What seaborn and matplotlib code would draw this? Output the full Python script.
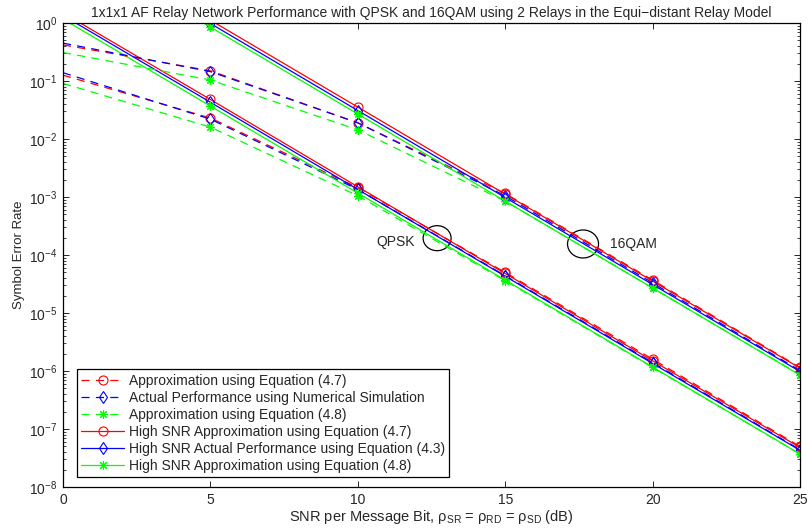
import matplotlib
matplotlib.use("Agg")
import matplotlib.pyplot as plt
from matplotlib.patches import Ellipse
from matplotlib.ticker import LogLocator, NullFormatter, MultipleLocator
import numpy as np
import seaborn as sns

# SNR grid (dB)
snr_db = [0, 5, 10, 15, 20, 25]

# QPSK symbol error rates
qpsk_eq47 = [0.126, 0.023, 1.45e-3, 5.0e-5, 1.6e-6, 5.0e-8]
qpsk_sim = [0.139, 0.022, 1.35e-3, 4.4e-5, 1.4e-6, 4.4e-8]
qpsk_eq48 = [0.091, 0.016, 1.05e-3, 3.6e-5, 1.15e-6, 3.7e-8]
qpsk_hi_eq47 = [1.5, 4.8e-2, 1.5e-3, 4.8e-5, 1.5e-6, 4.8e-8]
qpsk_hi_eq43 = [1.35, 4.3e-2, 1.35e-3, 4.3e-5, 1.35e-6, 4.3e-8]
qpsk_hi_eq48 = [1.17, 3.7e-2, 1.17e-3, 3.7e-5, 1.17e-6, 3.7e-8]

# 16QAM symbol error rates
qam_eq47 = [0.42, 0.15, 0.019, 1.15e-3, 3.7e-5, 1.15e-6]
qam_sim = [0.45, 0.145, 0.019, 1.05e-3, 3.3e-5, 1.02e-6]
qam_eq48 = [0.31, 0.104, 0.0144, 8.5e-4, 2.7e-5, 8.6e-7]
qam_hi_eq47 = [35.5, 1.12, 3.55e-2, 1.12e-3, 3.55e-5, 1.12e-6]
qam_hi_eq43 = [30.9, 0.98, 3.1e-2, 9.8e-4, 3.1e-5, 9.8e-7]
qam_hi_eq48 = [26.9, 0.85, 2.7e-2, 8.5e-4, 2.7e-5, 8.5e-7]

legend_labels = [
    "Approximation using Equation (4.7)",
    "Actual Performance using Numerical Simulation",
    "Approximation using Equation (4.8)",
    "High SNR Approximation using Equation (4.7)",
    "High SNR Actual Performance using Equation (4.3)",
    "High SNR Approximation using Equation (4.8)",
]

sns.set_style("ticks")
plt.rcParams["font.family"] = ["Liberation Sans", "DejaVu Sans"]
plt.rcParams["mathtext.default"] = "regular"
plt.rcParams["xtick.direction"] = "in"
plt.rcParams["ytick.direction"] = "in"

fig = plt.figure(figsize=(8.09, 5.29), dpi=100)
ax = fig.add_axes([63 / 809, 1 - 487 / 529, 737 / 809, 464 / 529])
ax.set_yscale("log")

RED, BLUE, GREEN = "#ff0000", "#0000ff", "#00ff00"
asterisk = (8, 2, 0)
dashed = (0, (6.5, 5))

styles = [
    dict(color=RED, linestyle=dashed, marker="o", ms=6.5),
    dict(color=BLUE, linestyle=dashed, marker="d", ms=6.5),
    dict(color=GREEN, linestyle=dashed, marker=asterisk, ms=6.5),
    dict(color=RED, linestyle="-", marker="o", ms=6.5),
    dict(color=BLUE, linestyle="-", marker="d", ms=6.5),
    dict(color=GREEN, linestyle="-", marker=asterisk, ms=6.5),
]
qpsk_sets = [qpsk_eq47, qpsk_sim, qpsk_eq48, qpsk_hi_eq47, qpsk_hi_eq43, qpsk_hi_eq48]
qam_sets = [qam_eq47, qam_sim, qam_eq48, qam_hi_eq47, qam_hi_eq43, qam_hi_eq48]

handles = []
for group in (qpsk_sets, qam_sets):
    for vals, st in zip(group, styles):
        sns.lineplot(x=snr_db, y=vals, ax=ax, color=st["color"],
                     linestyle=st["linestyle"], marker=st["marker"],
                     markersize=st["ms"], markerfacecolor="none",
                     markeredgecolor=st["color"], markeredgewidth=0.8,
                     markevery=list(range(1, len(snr_db))),
                     linewidth=0.9, legend=False)
        if group is qpsk_sets:
            handles.append(ax.get_lines()[-1])

ax.set_xlim(0, 25)
ax.set_ylim(1e-8, 1)
ax.xaxis.set_major_locator(MultipleLocator(5))
ax.yaxis.set_major_locator(LogLocator(base=10, numticks=20))
ax.yaxis.set_minor_locator(LogLocator(base=10, subs=np.arange(2, 10), numticks=20))
ax.yaxis.set_minor_formatter(NullFormatter())
ax.tick_params(which="both", top=True, right=True, labelsize=10, pad=4)
ax.tick_params(which="major", length=4, width=0.7)
ax.tick_params(which="minor", length=2, width=0.6)
for sp in ax.spines.values():
    sp.set_linewidth(0.9)
    sp.set_color("black")

ax.set_title("1x1x1 AF Relay Network Performance with QPSK and 16QAM using 2 Relays "
             "in the Equi\u2212distant Relay Model", fontsize=10, pad=4)
ax.set_xlabel(r"SNR per Message Bit, $\rho_{SR}$ = $\rho_{RD}$ = $\rho_{SD}$ (dB)",
              fontsize=10.5, labelpad=1)
ax.set_ylabel("Symbol Error Rate", fontsize=9.5, labelpad=3)

# Modulation annotations with ellipses around the curve bundles
ax.text(11.94, 1.67e-4, "QPSK", ha="right", va="center", fontsize=10)
ax.text(18.55, 1.55e-4, "16QAM", ha="left", va="center", fontsize=10)
fig.canvas.draw()
to_axes = ax.transAxes.inverted()
for cx, cy, w, h in [(12.69, 10 ** -3.71, 28, 25), (17.64, 10 ** -3.81, 31, 28)]:
    ax_xy = to_axes.transform(ax.transData.transform((cx, cy)))
    ax.add_patch(Ellipse(ax_xy, w / 737, h / 464, transform=ax.transAxes,
                         fill=False, edgecolor="black", linewidth=0.9))

leg = ax.legend(handles, legend_labels, loc="lower left",
                bbox_to_anchor=(0.019, 0.0216), fontsize=10, frameon=True,
                fancybox=False, edgecolor="black", framealpha=1,
                handlelength=3.1, handletextpad=0.35, labelspacing=0.22,
                borderpad=0.3, borderaxespad=0)
leg.get_frame().set_linewidth(0.9)

fig.savefig("out.png", dpi=100)
